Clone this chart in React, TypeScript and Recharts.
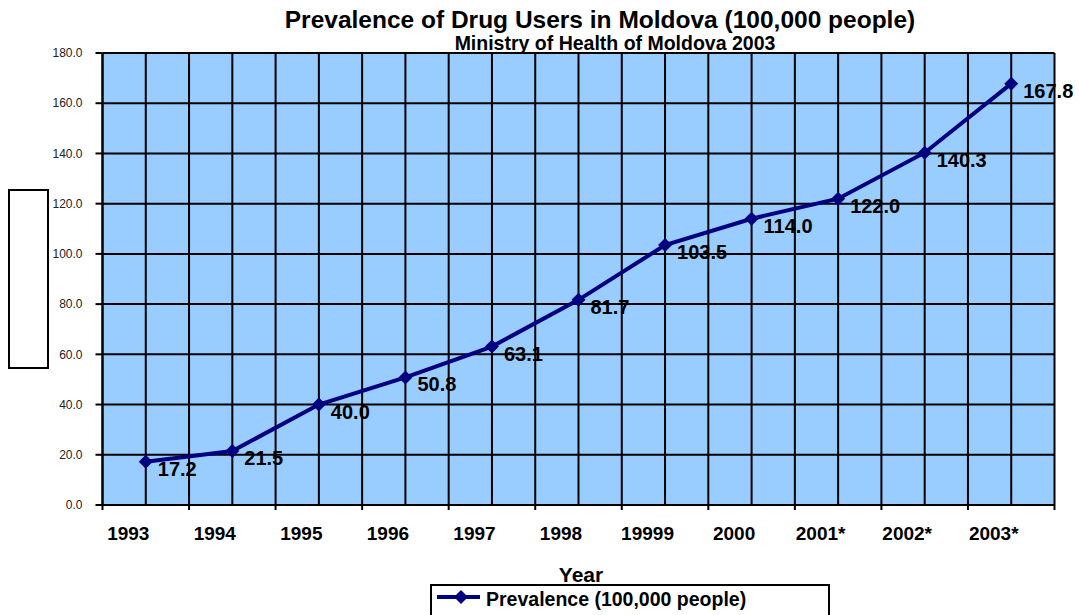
import React from 'react';
import { LineChart, Line, XAxis, YAxis, CartesianGrid, LabelList } from 'recharts';

const categories = ['1993', '1994', '1995', '1996', '1997', '1998', '19999', '2000', '2001*', '2002*', '2003*'];
const prevalence = [17.2, 21.5, 40.0, 50.8, 63.1, 81.7, 103.5, 114.0, 122.0, 140.3, 167.8];
const yTicks = [0, 20, 40, 60, 80, 100, 120, 140, 160, 180];
const titleText = 'Prevalence of Drug Users in Moldova (100,000 people)';
const subtitleText = 'Ministry of Health of Moldova 2003';
const xAxisTitle = 'Year';
const seriesName = 'Prevalence (100,000 people)';

const data = categories.map((c, i) => ({ pos: i + 0.5, category: c, value: prevalence[i] }));
// tick positions: category boundaries (integers) and category centres (halves)
const xTicks = Array.from({ length: categories.length * 2 + 1 }, (_, i) => i / 2);

const FONT = "'Liberation Sans', Arial, sans-serif";
const NAVY = '#000080';

const XTick = (props: any) => {
  const { x, y, payload } = props;
  const v = payload.value;
  if (Number.isInteger(v)) {
    return <line x1={x} x2={x} y1={y} y2={y + 5} stroke="#000" strokeWidth={2} />;
  }
  const idx = Math.floor(v);
  return (
    <text x={x - 17.5} y={y + 35} textAnchor="middle" fontFamily={FONT} fontWeight="bold" fontSize={19} fill="#000">
      {categories[idx]}
    </text>
  );
};

const Diamond = (props: any) => {
  const { cx, cy, index } = props;
  if (cx == null || cy == null) return <g key={index} />;
  return (
    <polygon
      key={index}
      points={`${cx},${cy - 7} ${cx + 7},${cy} ${cx},${cy + 7} ${cx - 7},${cy}`}
      fill={NAVY}
    />
  );
};

const ValueLabel = (props: any) => {
  const { x, y, value } = props;
  return (
    <text x={x + 12} y={y + 14} fontFamily={FONT} fontWeight="bold" fontSize={20} fill="#000">
      {Number(value).toFixed(1)}
    </text>
  );
};

export default function App() {
  return (
    <div style={{ position: 'absolute', left: 0, top: 0, width: 1079, height: 615, background: '#fff', fontFamily: FONT }}>
      <LineChart
        width={1079}
        height={615}
        data={data}
        margin={{ top: 53, right: 24.5, bottom: 80, left: 0 }}
      >
        <CartesianGrid fill="#99CCFF" stroke="#000" strokeWidth={2} />
        <XAxis
          dataKey="pos"
          type="number"
          domain={[0, categories.length]}
          ticks={xTicks}
          interval={0}
          height={30}
          tick={<XTick />}
          tickLine={false}
          tickSize={0}
          tickMargin={0}
          axisLine={{ stroke: '#000', strokeWidth: 2 }}
        />
        <YAxis
          type="number"
          domain={[0, 180]}
          ticks={yTicks}
          interval={0}
          width={102.5}
          tickSize={7}
          tickMargin={13}
          tickFormatter={(v: number) => v.toFixed(1)}
          tick={{ fontSize: 12, fill: '#222', fontFamily: FONT }}
          tickLine={{ stroke: '#000', strokeWidth: 2 }}
          axisLine={{ stroke: '#000', strokeWidth: 2 }}
        />
        <Line
          dataKey="value"
          stroke={NAVY}
          strokeWidth={4}
          dot={Diamond}
          activeDot={false}
          isAnimationActive={false}
          type="linear"
        >
          <LabelList dataKey="value" content={<ValueLabel />} />
        </Line>
      </LineChart>

      <div style={{ position: 'absolute', left: 0, width: 1200, top: 7, textAlign: 'center', fontSize: 24.5, fontWeight: 'bold', lineHeight: '25px', whiteSpace: 'nowrap' }}>
        {titleText}
      </div>
      <div style={{ position: 'absolute', left: 0, width: 1230, top: 35, textAlign: 'center', fontSize: 19.5, fontWeight: 'bold', lineHeight: '17px', whiteSpace: 'nowrap' }}>
        {subtitleText}
      </div>
      <div style={{ position: 'absolute', left: 0, width: 1162, top: 563, textAlign: 'center', fontSize: 21, fontWeight: 'bold', lineHeight: '24px' }}>
        {xAxisTitle}
      </div>
      <div style={{ position: 'absolute', left: 8, top: 189, width: 37, height: 176, border: '2px solid #000', background: '#fff' }} />
      <div style={{ position: 'absolute', left: 430, top: 584, width: 396, height: 40, border: '2px solid #000', background: '#fff' }}>
        <svg width={50} height={24} style={{ position: 'absolute', left: 3, top: 0 }}>
          <line x1={2} x2={45} y1={11} y2={11} stroke={NAVY} strokeWidth={4} />
          <polygon points="26,4 33,11 26,18 19,11" fill={NAVY} />
        </svg>
        <div style={{ position: 'absolute', left: 54, top: 2, fontSize: 19.5, fontWeight: 'bold', lineHeight: '22px', whiteSpace: 'nowrap' }}>
          {seriesName}
        </div>
      </div>
    </div>
  );
}
